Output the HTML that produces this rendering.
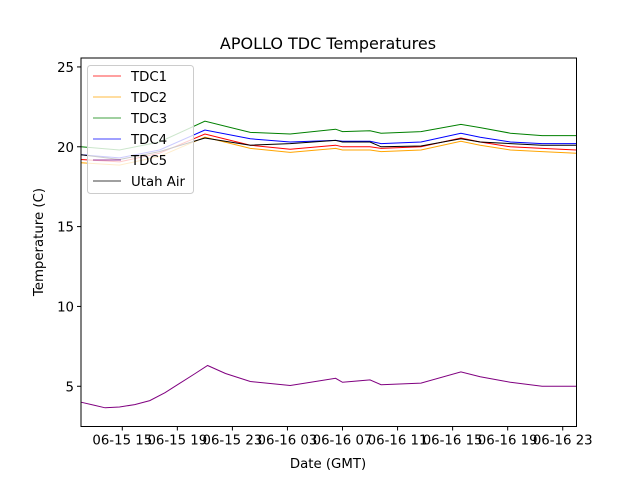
<!DOCTYPE html>
<html><head><meta charset="utf-8"><style>
body{margin:0;background:#fff;}
svg text{font-family:"DejaVu Sans","Liberation Sans",sans-serif;fill:#000;}
</style></head><body>
<svg id="chart" width="640" height="480" xmlns="http://www.w3.org/2000/svg">
<rect width="640" height="480" fill="#fff"/>
<text x="328" y="49" text-anchor="middle" font-size="16">APOLLO TDC Temperatures</text>
<text x="328" y="468" text-anchor="middle" font-size="13.3">Date (GMT)</text>
<text transform="translate(43,242) rotate(-90)" text-anchor="middle" font-size="13.3">Temperature (C)</text>
<g id="plot"></g>
<g id="axes"></g>
<g id="legend"></g>
</svg>
<script>
const hours = [12, 14.8, 17.7, 21, 24.3, 27.2, 30.5, 31, 33, 33.8, 36.7, 39.6, 41, 43.2, 45.5, 48];
const tdc1 = [19.2, 19.05, 19.6, 20.8, 20.1, 19.85, 20.1, 20.0, 20.0, 19.9, 20.0, 20.55, 20.3, 20.0, 19.9, 19.8];
const tdc2 = [19.0, 18.85, 19.4, 20.6, 19.9, 19.65, 19.9, 19.8, 19.8, 19.7, 19.8, 20.35, 20.1, 19.8, 19.7, 19.6];
const tdc3 = [20.0, 19.8, 20.3, 21.6, 20.9, 20.8, 21.1, 20.95, 21.0, 20.85, 20.95, 21.4, 21.2, 20.85, 20.7, 20.7];
const tdc4 = [19.5, 19.3, 19.8, 21.05, 20.5, 20.3, 20.4, 20.35, 20.35, 20.2, 20.3, 20.85, 20.6, 20.3, 20.2, 20.2];
const utah = [19.5, 19.2, 19.7, 20.55, 20.1, 20.2, 20.4, 20.3, 20.3, 20.0, 20.05, 20.5, 20.3, 20.2, 20.1, 20.1];
const tdc5Hours = [12, 13, 13.75, 14.8, 15.9, 17, 18.1, 19.2, 20.3, 21.2, 22.5, 24.3, 27.2, 30.5, 31, 33, 33.8, 36.7, 39.6, 41, 43.2, 45.5, 48];
const tdc5 = [4.0, 3.8, 3.65, 3.7, 3.85, 4.1, 4.6, 5.2, 5.8, 6.3, 5.8, 5.3, 5.05, 5.5, 5.25, 5.4, 5.1, 5.2, 5.9, 5.6, 5.25, 5.0, 5.0];
const xTickHours = [15, 19, 23, 27, 31, 35, 39, 43, 47];
const xTickLabels = ["06-15 15","06-15 19","06-15 23","06-16 03","06-16 07","06-16 11","06-16 15","06-16 19","06-16 23"];
const yTicks = [5, 10, 15, 20, 25];
const seriesNames = ["TDC1","TDC2","TDC3","TDC4","TDC5","Utah Air"];

const L=81, R=576.5, T=58, B=426.5;
const xMin=12, xMax=48, yMin=2.48, yMax=25.56;
const sx = h => L + (h-xMin)/(xMax-xMin)*(R-L);
const sy = v => B - (v-yMin)/(yMax-yMin)*(B-T);
const NS="http://www.w3.org/2000/svg";
const mk = (tag, attrs, parent) => { const e=document.createElementNS(NS,tag); for(const k in attrs) e.setAttribute(k,attrs[k]); parent.appendChild(e); return e; };

const plot=document.getElementById('plot');
const series=[[hours,tdc1,'#ff0000','tdc1-line'],[hours,tdc2,'#ffa500','tdc2-line'],[hours,tdc3,'#008000','tdc3-line'],[hours,tdc4,'#0000ff','tdc4-line'],[tdc5Hours,tdc5,'#800080','tdc5-line'],[hours,utah,'#000000','utah-air-line']];
const colors=series.map(s=>s[2]);
series.forEach(s=>{
  const pts=s[0].map((h,i)=>sx(h).toFixed(1)+','+sy(s[1][i]).toFixed(1)).join(' ');
  const p=mk('polyline',{points:pts,fill:'none',stroke:s[2],'stroke-width':1},plot);
  
  
});

const axes=document.getElementById('axes');
const frame=mk('rect',{x:L,y:T,width:R-L,height:B-T,fill:'none',stroke:'#000','stroke-width':1},axes);


xTickHours.forEach((h,i)=>{
  const x=sx(h);
  mk('line',{x1:x,x2:x,y1:B,y2:B+4,stroke:'#000'},axes);
  const t=mk('text',{x:x,y:B+18,'text-anchor':'middle','font-size':13.3},axes);
  t.textContent=xTickLabels[i];
  
  
});
yTicks.forEach(v=>{
  const y=sy(v);
  mk('line',{x1:L-4,x2:L,y1:y,y2:y,stroke:'#000'},axes);
  const t=mk('text',{x:L-7,y:y+5,'text-anchor':'end','font-size':13.3},axes);
  t.textContent=v;
  
  
});

const lg=document.getElementById('legend');
const box=mk('rect',{x:87.5,y:65.5,width:106,height:128,rx:3,fill:'#fff','fill-opacity':0.8,stroke:'#ccc'},lg);


seriesNames.forEach((n,i)=>{
  const y=76+i*21;
  mk('line',{x1:93,x2:121,y1:y,y2:y,stroke:colors[i],'stroke-width':0.8},lg);
  const t=mk('text',{x:131,y:y+5,'font-size':13.3},lg);
  t.textContent=n;
  
  
});
</script>
</body></html>
